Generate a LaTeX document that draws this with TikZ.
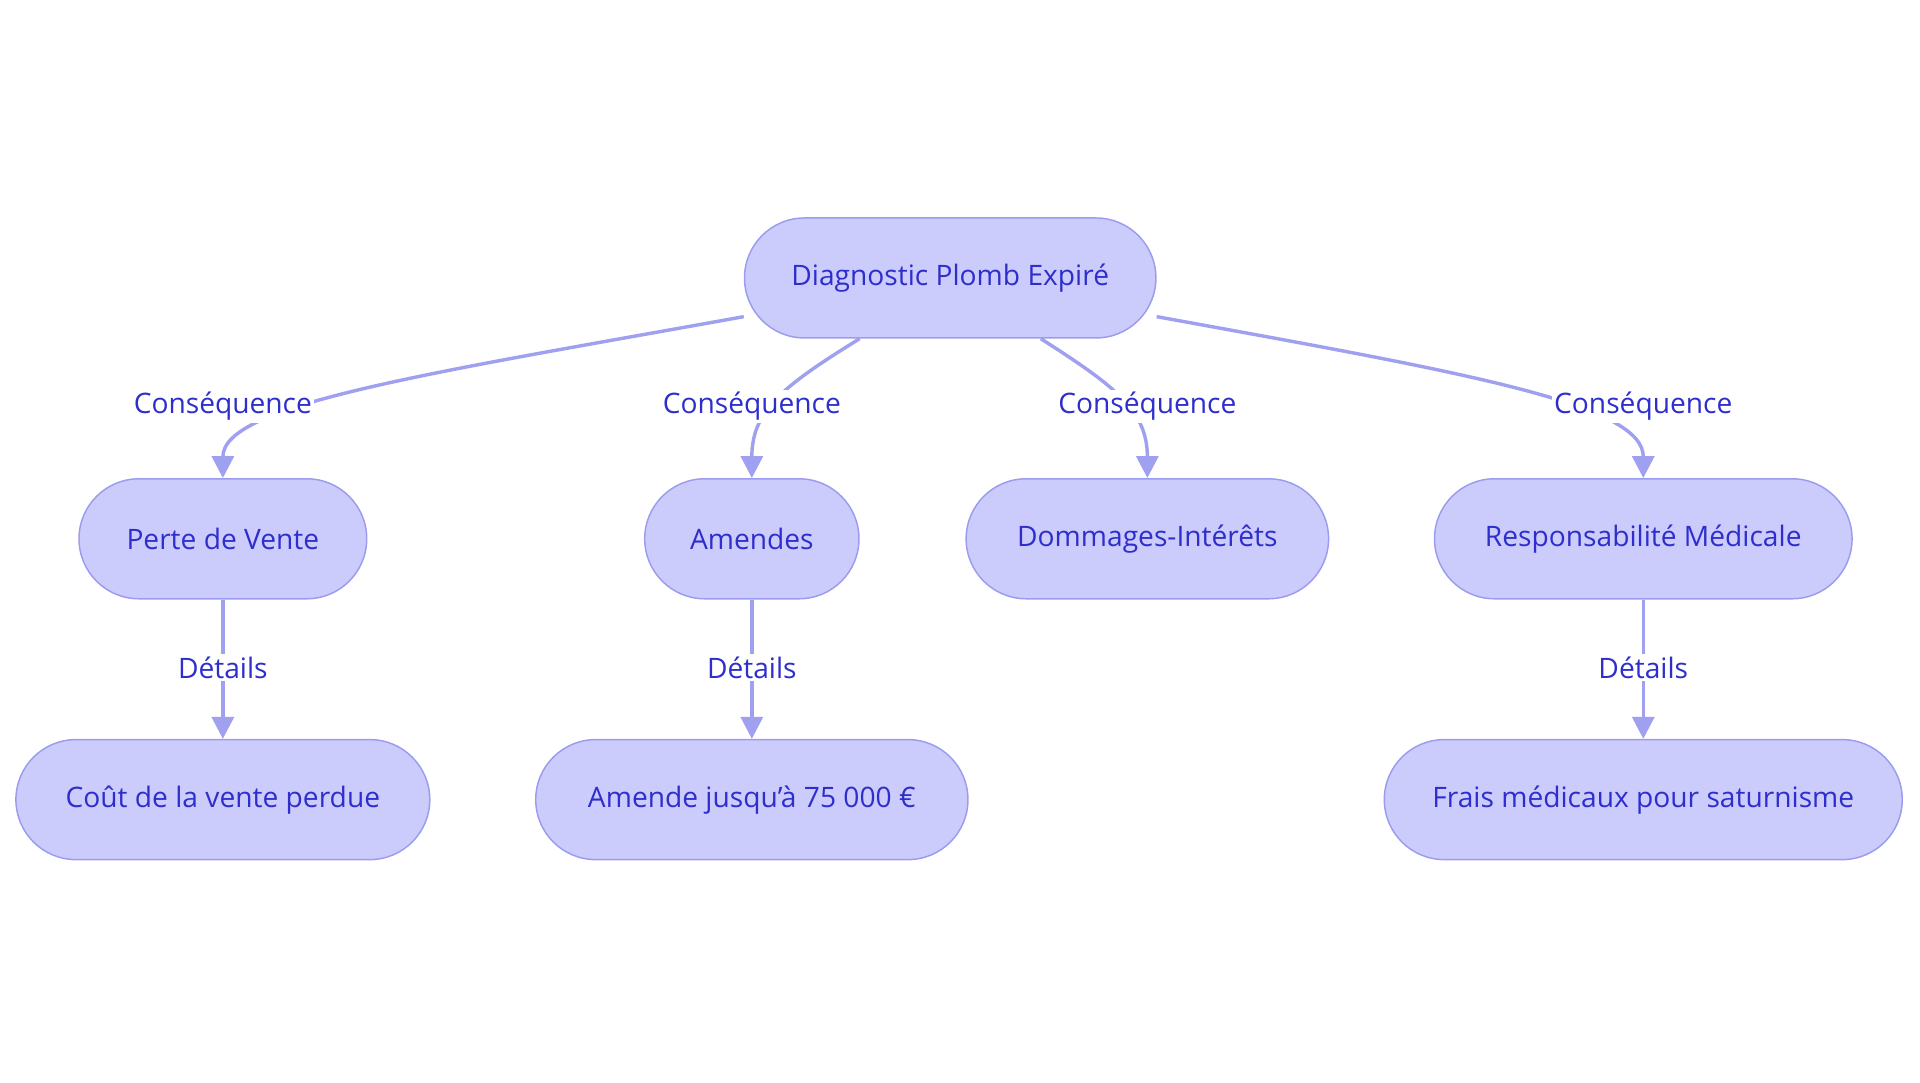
\documentclass[tikz,border=0pt]{standalone}
\usepackage{fontspec}
\setmainfont{Open Sans}
\usetikzlibrary{arrows.meta}
\definecolor{nfill}{HTML}{CBCBFC}
\definecolor{nline}{HTML}{9C9CEE}
\definecolor{ntext}{HTML}{2E2ECC}
\definecolor{eline}{HTML}{A0A0F0}
\begin{document}
\begin{tikzpicture}[x=0.5pt,y=-0.5pt,
  box/.style={draw=nline,fill=nfill,text=ntext,rounded corners=24.5pt,minimum height=49pt,inner xsep=17pt,font=\fontsize{11.5}{13}\selectfont,line width=0.6pt},
  edge/.style={draw=eline,line width=1.4pt,-{Triangle[width=9pt,length=9pt]}},
  lab/.style={fill=white,text=ntext,font=\fontsize{11.5}{13}\selectfont,inner sep=1pt}]
\useasboundingbox (0,0) rectangle (1568,884);
\node[box,minimum width=168pt] (root) at (776,227) {Diagnostic Plomb Expiré};
\node[box,minimum width=117.5pt] (perte) at (182,440) {Perte de Vente};
\node[box,minimum width=87.5pt] (amendes) at (614,440) {Amendes};
\node[box,minimum width=148pt] (domm) at (937,440) {Dommages-Intérêts};
\node[box,minimum width=170.5pt] (resp) at (1342,440) {Responsabilité Médicale};
\node[box,minimum width=169pt] (cout) at (182,653) {Coût de la vente perdue};
\node[box,minimum width=176.5pt] (amj) at (614,653) {Amende jusqu'à 75 000 €};
\node[box,minimum width=211.5pt] (frais) at (1342,653) {Frais médicaux pour saturnisme};
\draw[edge] ([yshift=9pt]root.south west) .. controls (350,305) and (182,330) .. (perte.north);
\draw[edge] ([xshift=-37pt]root.south) .. controls (640,315) and (614,335) .. (amendes.north);
\draw[edge] ([xshift=37pt]root.south) .. controls (910,315) and (937,335) .. (domm.north);
\draw[edge] ([yshift=9pt]root.south east) .. controls (1200,305) and (1342,330) .. (resp.north);
\draw[edge] (perte) -- (cout);
\draw[edge] (amendes) -- (amj);
\draw[edge] (resp) -- (frais);
\node[lab] (l1) at (182,332) {Conséquence};
\node[lab] (l2) at (614,332) {Conséquence};
\node[lab] (l3) at (937,332) {Conséquence};
\node[lab] (l4) at (1342,332) {Conséquence};
\node[lab] (l5) at (182,545) {Détails};
\node[lab] (l6) at (614,545) {Détails};
\node[lab] (l7) at (1342,545) {Détails};
\end{tikzpicture}
\end{document}
